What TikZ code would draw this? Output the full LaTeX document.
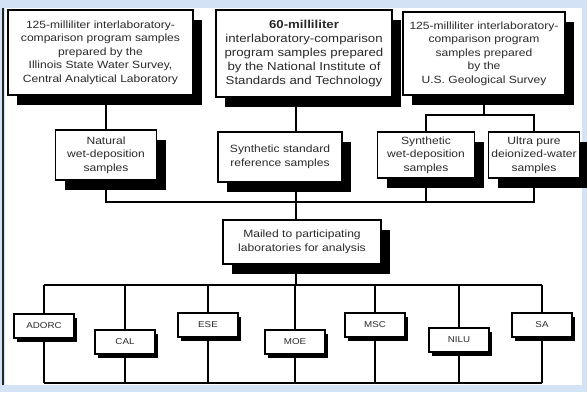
\documentclass[tikz,border=0pt]{standalone}
\usepackage{fontspec}
\setmainfont[FakeStretch=1.15]{Liberation Sans}
\usetikzlibrary{positioning,shadows,backgrounds}
\definecolor{skyback}{HTML}{D3E2F4}
\definecolor{inkgray}{HTML}{2A2A2A}

\tikzset{
    srcbox/.style={draw=black, line width=1.3pt, fill=white, align=center, inner sep=1pt,
        text=inkgray, font=\fontsize{10.5}{13.5}\selectfont,
        drop shadow={shadow xshift=9pt, shadow yshift=-10pt, fill=black, opacity=1}},
    labbox/.style={draw=black, line width=1.3pt, fill=white, align=center, inner sep=1pt,
        text=inkgray, font=\fontsize{8.5}{10}\selectfont, minimum width=60pt, minimum height=24pt,
        drop shadow={shadow xshift=3pt, shadow yshift=-4pt, fill=black, opacity=1}},
    link/.style={line width=1.3pt, black}
}

\begin{document}
\begin{tikzpicture}[x=1pt, y=-1pt]

    % Top row: where the samples come from
    \node[srcbox, minimum width=185pt, minimum height=85pt] (isws) at (100.5,52.5)
        {125-milliliter interlaboratory-\\comparison program samples\\prepared by the\\Illinois State Water Survey,\\Central Analytical Laboratory};
    \node[srcbox, minimum width=176pt, minimum height=87pt, font=\fontsize{11.5}{14}\selectfont] (nist) at (304,53.5)
        {\textbf{60-milliliter}\\interlaboratory-comparison\\program samples prepared\\by the National Institute of\\Standards and Technology};
    \node[srcbox, minimum width=162pt, minimum height=83pt] (usgs) at (484,53.5)
        {125-milliliter interlaboratory-\\comparison program\\samples prepared\\by the\\U.S. Geological Survey};

    % Second row: sample types
    \node[srcbox, minimum width=101pt, minimum height=50pt] (natural) at (106,155)
        {Natural\\wet-deposition\\samples};
    \node[srcbox, minimum width=124pt, minimum height=50pt] (synstd) at (280,157)
        {Synthetic standard\\reference samples};
    \node[srcbox, minimum width=97pt, minimum height=46pt] (synwet) at (426,155)
        {Synthetic\\wet-deposition\\samples};
    \node[srcbox, minimum width=91pt, minimum height=46pt] (ultra) at (534,155)
        {Ultra pure\\deionized-water\\samples};

    % Mailing step
    \node[srcbox, minimum width=158pt, minimum height=44pt] (mailed) at (302,242)
        {Mailed to participating\\laboratories for analysis};

    % Laboratories
    \node[labbox] (adorc) at (44,326) {ADORC};
    \node[labbox] (cal) at (125,342) {CAL};
    \node[labbox] (ese) at (208,325) {ESE};
    \node[labbox] (moe) at (295,342) {MOE};
    \node[labbox] (msc) at (375,325) {MSC};
    \node[labbox] (nilu) at (459,340) {NILU};
    \node[labbox] (sa) at (542,325) {SA};

    \coordinate (trunk) at (296,0);
    \coordinate (split) at (0,115);
    \coordinate (gather) at (0,202);
    \coordinate (busT) at (0,285);
    \coordinate (busB) at (0,383);

    \begin{pgfonlayer}{background}
        % Frame
        \fill[skyback] (0,0) rectangle (587,392);
        \fill[white] (5,8) rectangle (582,385);
        \draw[line width=2pt, black!85] (3,8) -- (3,385);
        % Sources to sample types
        \draw[link] (isws.south -| natural) -- (natural.north);
        \draw[link] (nist.south -| trunk) -- (synstd.north -| trunk);
        \draw[link] (usgs.south) -- (usgs |- split);
        \draw[link] (synwet.north) -- (synwet |- split) -- (ultra |- split) -- (ultra.north);
        % Sample types gathered, then mailed
        \draw[link] (natural.south) -- (natural |- gather) -- (ultra |- gather) -- (ultra.south);
        \draw[link] (synstd.south -| trunk) -- (mailed.north -| trunk);
        \draw[link] (synwet.south) -- (synwet |- gather);
        % Mailed to the laboratories
        \draw[link] (mailed.south -| trunk) -- (trunk |- busT);
        \draw[link] (adorc |- busT) -- (sa |- busT);
        \draw[link] (adorc |- busB) -- (sa |- busB);
        \foreach \lab in {adorc,cal,ese,moe,msc,nilu,sa}
            \draw[link] (\lab |- busT) -- (\lab |- busB);
    \end{pgfonlayer}
    \useasboundingbox (0,0) rectangle (587,392);

\end{tikzpicture}
\end{document}
